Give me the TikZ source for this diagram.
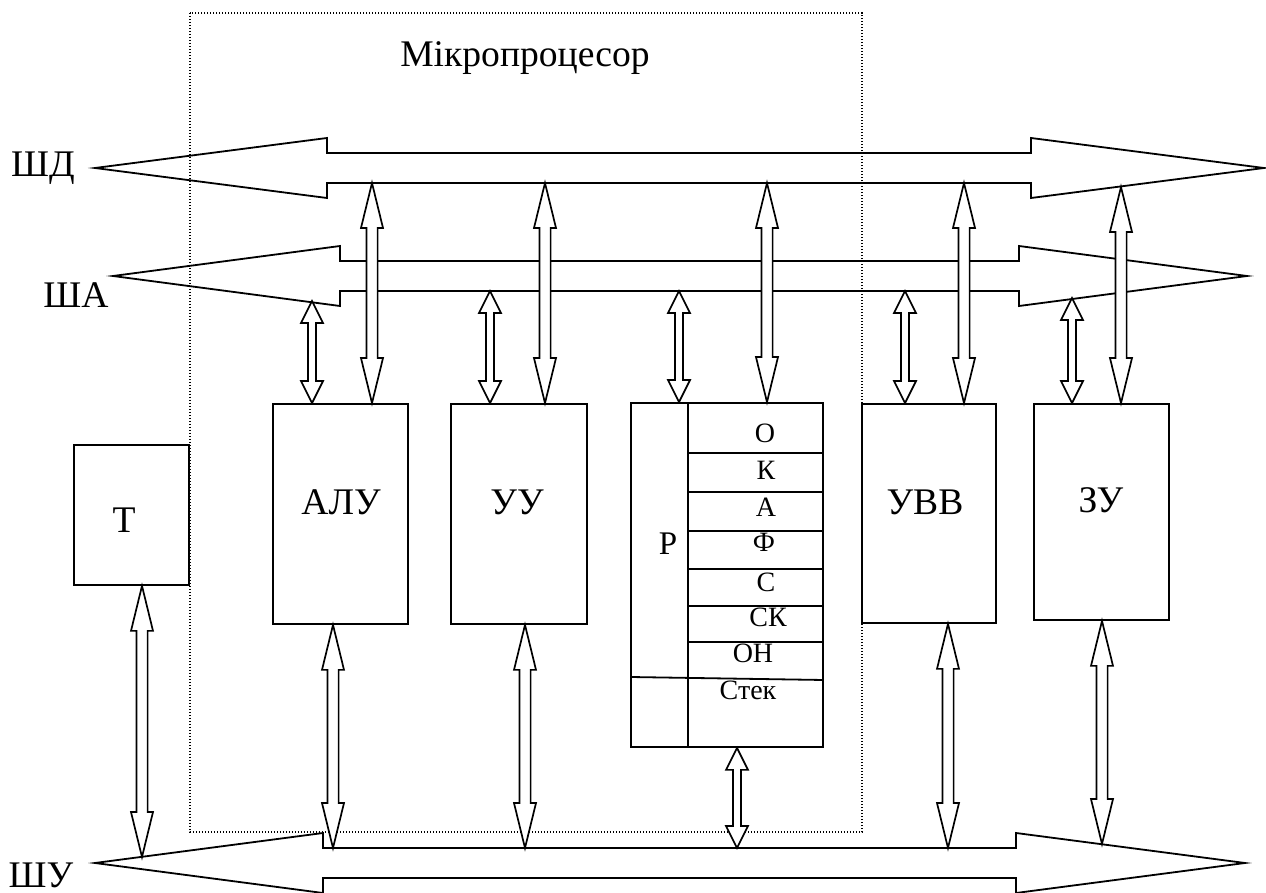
\documentclass[tikz,border=0pt]{standalone}
\usepackage{fontspec}
\setmainfont{Liberation Serif}
\usetikzlibrary{calc}

% hollow two-headed arrow on a vertical line: head length, half shaft, top, bottom
\newcommand{\hollowlink}[4]{%
  \draw[link] let \p1=(#3), \p2=(#4) in
    (\x1,\y1) -- (\x1-5.5pt,\y1-#1) -- (\x1-#2,\y1-#1) -- (\x1-#2,\y2+#1)
    -- (\x1-5.5pt,\y2+#1) -- (\x1,\y2) -- (\x1+5.5pt,\y2+#1) -- (\x1+#2,\y2+#1)
    -- (\x1+#2,\y1-#1) -- (\x1+5.5pt,\y1-#1) -- cycle;}
\newcommand{\datalink}[2]{\hollowlink{22.5pt}{2.8pt}{#1}{#2}}
\newcommand{\adrlink}[2]{\hollowlink{11pt}{2pt}{#1}{#2}}

% bus: name, y, left tip, left base, right base, right tip
\newcommand{\busarrow}[6]{%
  \draw[bus] (#3,#2) -- (#4,#2-30) -- (#4,#2-15) -- (#5,#2-15) -- (#5,#2-30)
    -- (#6,#2) -- (#5,#2+30) -- (#5,#2+15) -- (#4,#2+15) -- (#4,#2+30) -- cycle;
  \coordinate (#1t) at (#4,#2-15);
  \coordinate (#1b) at (#4,#2+15);}

\begin{document}
\begin{tikzpicture}[
    x=0.5pt,y=-0.5pt,
    block/.style={draw,line width=0.9pt,inner sep=0pt},
    frame/.style={line width=0.9pt},
    bus/.style={line width=0.9pt,line join=miter},
    link/.style={draw,fill=white,line width=0.85pt,line join=miter},
    cpu/.style={draw,line width=0.6pt,dash pattern=on 0.6pt off 0.9pt},
    lbl/.style={font=\fontsize{18.8}{20}\selectfont,anchor=base,inner sep=0pt},
    reglbl/.style={font=\fontsize{14}{15}\selectfont,anchor=base,inner sep=0pt}
  ]
    \useasboundingbox (0,0) rectangle (1266,893);

    % microprocessor border
    \draw[cpu] (190,13) rectangle (862,832);
    \node[lbl] (mp) at (525,67) {Мікропроцесор};

    % buses
    \busarrow{shd}{168}{95}{327}{1031}{1264}
    \busarrow{sha}{276}{113}{340}{1019}{1247}
    \busarrow{shu}{863}{95}{323}{1016}{1245}
    \node[lbl] (shdl) at (43,177) {ШД};
    \node[lbl] (shal) at (76,308) {ША};
    \node[lbl] (shul) at (41,887) {ШУ};

    % blocks
    \node[block,minimum width=57.5pt,minimum height=70pt] (t) at (131.5,515) {};
    \node[block,minimum width=67.5pt,minimum height=110pt] (alu) at (340.5,514) {};
    \node[block,minimum width=68pt,minimum height=110pt] (uu) at (519,514) {};
    \node[block,minimum width=96pt,minimum height=172pt] (reg) at (727,575) {};
    \node[block,minimum width=67pt,minimum height=109.5pt] (uvv) at (929,513.5) {};
    \node[block,minimum width=67.5pt,minimum height=108pt] (zu) at (1101.5,512) {};
    \node[lbl] (tl) at (124,533) {Т};
    \node[lbl] (alul) at (341,515) {АЛУ};
    \node[lbl] (uul) at (517,515) {УУ};
    \node[lbl] (uvvl) at (925,515) {УВВ};
    \node[lbl] (zul) at (1101,513) {ЗУ};

    % registers
    \draw[frame] (reg.north -| 688,0) -- (reg.south -| 688,0);
    \foreach \y in {453,492,531,569,606,642}
      \draw[frame] (688,\y) -- (reg.east |- 0,\y);
    \draw[frame] (reg.west |- 0,677) -- (reg.east |- 0,680);
    \node[lbl,font=\fontsize{16.5}{18}\selectfont] (rl) at (668,555) {Р};
    \foreach \t/\x/\y [count=\i] in {О/765/443,К/766/480,А/766/517,Ф/764/552,
        С/766/592,СК/768/627,ОН/753/663,Стек/748/700}
      \node[reglbl] (r\i) at (\x,\y) {\t};

    % data bus links
    \datalink{shdb -| 372,0}{alu.north -| 372,0}
    \datalink{shdb -| 545,0}{uu.north -| 545,0}
    \datalink{shdb -| 767,0}{reg.north -| 767,0}
    \datalink{shdb -| 964,0}{uvv.north -| 964,0}
    \datalink{1121,187}{zu.north -| 1121,0}

    % address bus links
    \adrlink{312,301}{alu.north -| 312,0}
    \adrlink{shab -| 490,0}{uu.north -| 490,0}
    \adrlink{shab -| 679,0}{reg.north -| 679,0}
    \adrlink{shab -| 905,0}{uvv.north -| 905,0}
    \adrlink{1072,298}{zu.north -| 1072,0}

    % control bus links
    \datalink{t.south -| 142,0}{142,857}
    \datalink{alu.south -| 333,0}{shut -| 333,0}
    \datalink{uu.south -| 525,0}{shut -| 525,0}
    \adrlink{reg.south -| 737,0}{shut -| 737,0}
    \datalink{uvv.south -| 948,0}{shut -| 948,0}
    \datalink{zu.south -| 1102,0}{1102,844}
  \end{tikzpicture}
\end{document}
